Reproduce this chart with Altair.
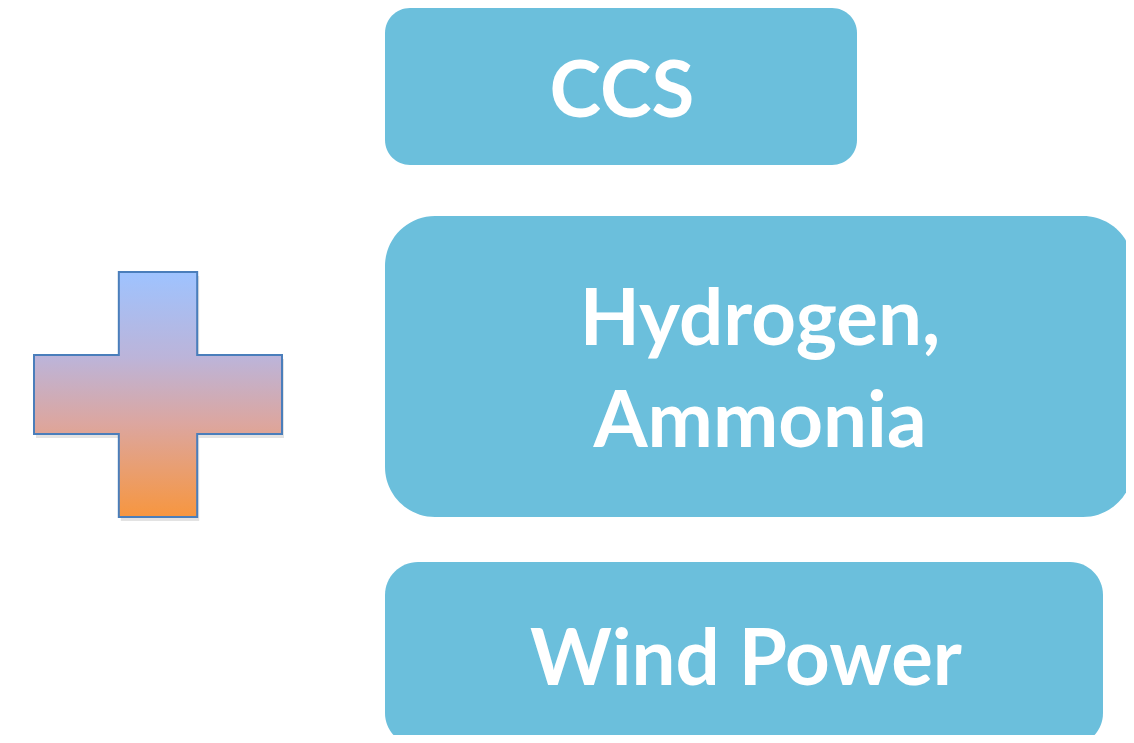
import altair as alt
import pandas as pd

# ---- content ----
labels = ["CCS", "Hydrogen,\nAmmonia", "Wind Power"]

# ---- layout (page pixel coordinates) ----
box_x0 = [385, 385, 385]
box_x1 = [857, 1133, 1103]
box_y0 = [8, 216, 562]
box_y1 = [165, 517, 746]
box_radius = [25, 50, 33]
text_x = [622, 760, 746]
text_y = [117, 345, 685]   # baseline of first line

plus_cx = [158]
plus_cy = [394.5]

BOX_COLOR = "#6BBFDC"
W, H = 1118, 727

boxes = pd.DataFrame({
    "label": labels, "x0": box_x0, "x1": box_x1, "y0": box_y0, "y1": box_y1,
    "tx": text_x, "ty": text_y, "r": box_radius,
})
plus = pd.DataFrame({"cx": plus_cx, "cy": plus_cy})

xs = alt.Scale(domain=[8, 8 + W], nice=False, zero=False)
ys = alt.Scale(domain=[8, 8 + H], nice=False, zero=False, reverse=True)

layers = []
for i, lab in enumerate(labels):
    layers.append(
        alt.Chart(boxes).transform_filter(alt.datum.label == lab)
        .mark_rect(color=BOX_COLOR, cornerRadius=box_radius[i])
        .encode(
            x=alt.X("x0:Q", scale=xs, axis=None),
            x2="x1:Q",
            y=alt.Y("y0:Q", scale=ys, axis=None),
            y2="y1:Q",
        )
    )

text = alt.Chart(boxes).mark_text(
    font="Lato", fontWeight="bold", fontSize=78, color="white",
    align="center", baseline="alphabetic", lineBreak="\n", lineHeight=102,
).encode(
    x=alt.X("tx:Q", scale=xs, axis=None),
    y=alt.Y("ty:Q", scale=ys, axis=None),
    text="label:N",
)

# plus sign as a custom symbol path in unit coordinates
s = 0.316
v = 0.988
hh = 0.319
plus_path = (
    f"M -{s} -{v} L {s} -{v} L {s} -{hh} L 1 -{hh} L 1 {hh} L {s} {hh} "
    f"L {s} {v} L -{s} {v} L -{s} {hh} L -1 {hh} L -1 -{hh} L -{s} -{hh} Z"
)
size = 248 * 248

shadow = alt.Chart(plus).transform_calculate(
    sx="datum.cx + 2", sy="datum.cy + 4"
).mark_point(
    shape=plus_path, filled=True, fill="#7f7f7f", opacity=0.22, size=size, strokeWidth=0,
).encode(
    x=alt.X("sx:Q", scale=xs, axis=None),
    y=alt.Y("sy:Q", scale=ys, axis=None),
)

gradient = alt.LinearGradient(
    gradient="linear",
    stops=[
        alt.GradientStop(color="#9EC3FF", offset=0),
        alt.GradientStop(color="#BCB4D9", offset=0.35),
        alt.GradientStop(color="#DCA69F", offset=0.62),
        alt.GradientStop(color="#F7963F", offset=1),
    ],
    x1=0, x2=0, y1=0, y2=1,
)

plus_mark = alt.Chart(plus).mark_point(
    shape=plus_path, filled=True, fill=gradient, opacity=1, size=size,
    stroke="#4A7EBB", strokeWidth=2,
).encode(
    x=alt.X("cx:Q", scale=xs, axis=None),
    y=alt.Y("cy:Q", scale=ys, axis=None),
)

chart = alt.layer(*layers, shadow, plus_mark, text).properties(
    width=W, height=H,
    autosize=alt.AutoSizeParams(type="none"),
    padding=0,
    view=alt.ViewBackground(stroke="transparent", strokeWidth=0),
).configure_view(stroke="transparent", strokeWidth=0).configure(background="white")

chart.save("out.html", embed_options={"renderer": "svg", "actions": False})
